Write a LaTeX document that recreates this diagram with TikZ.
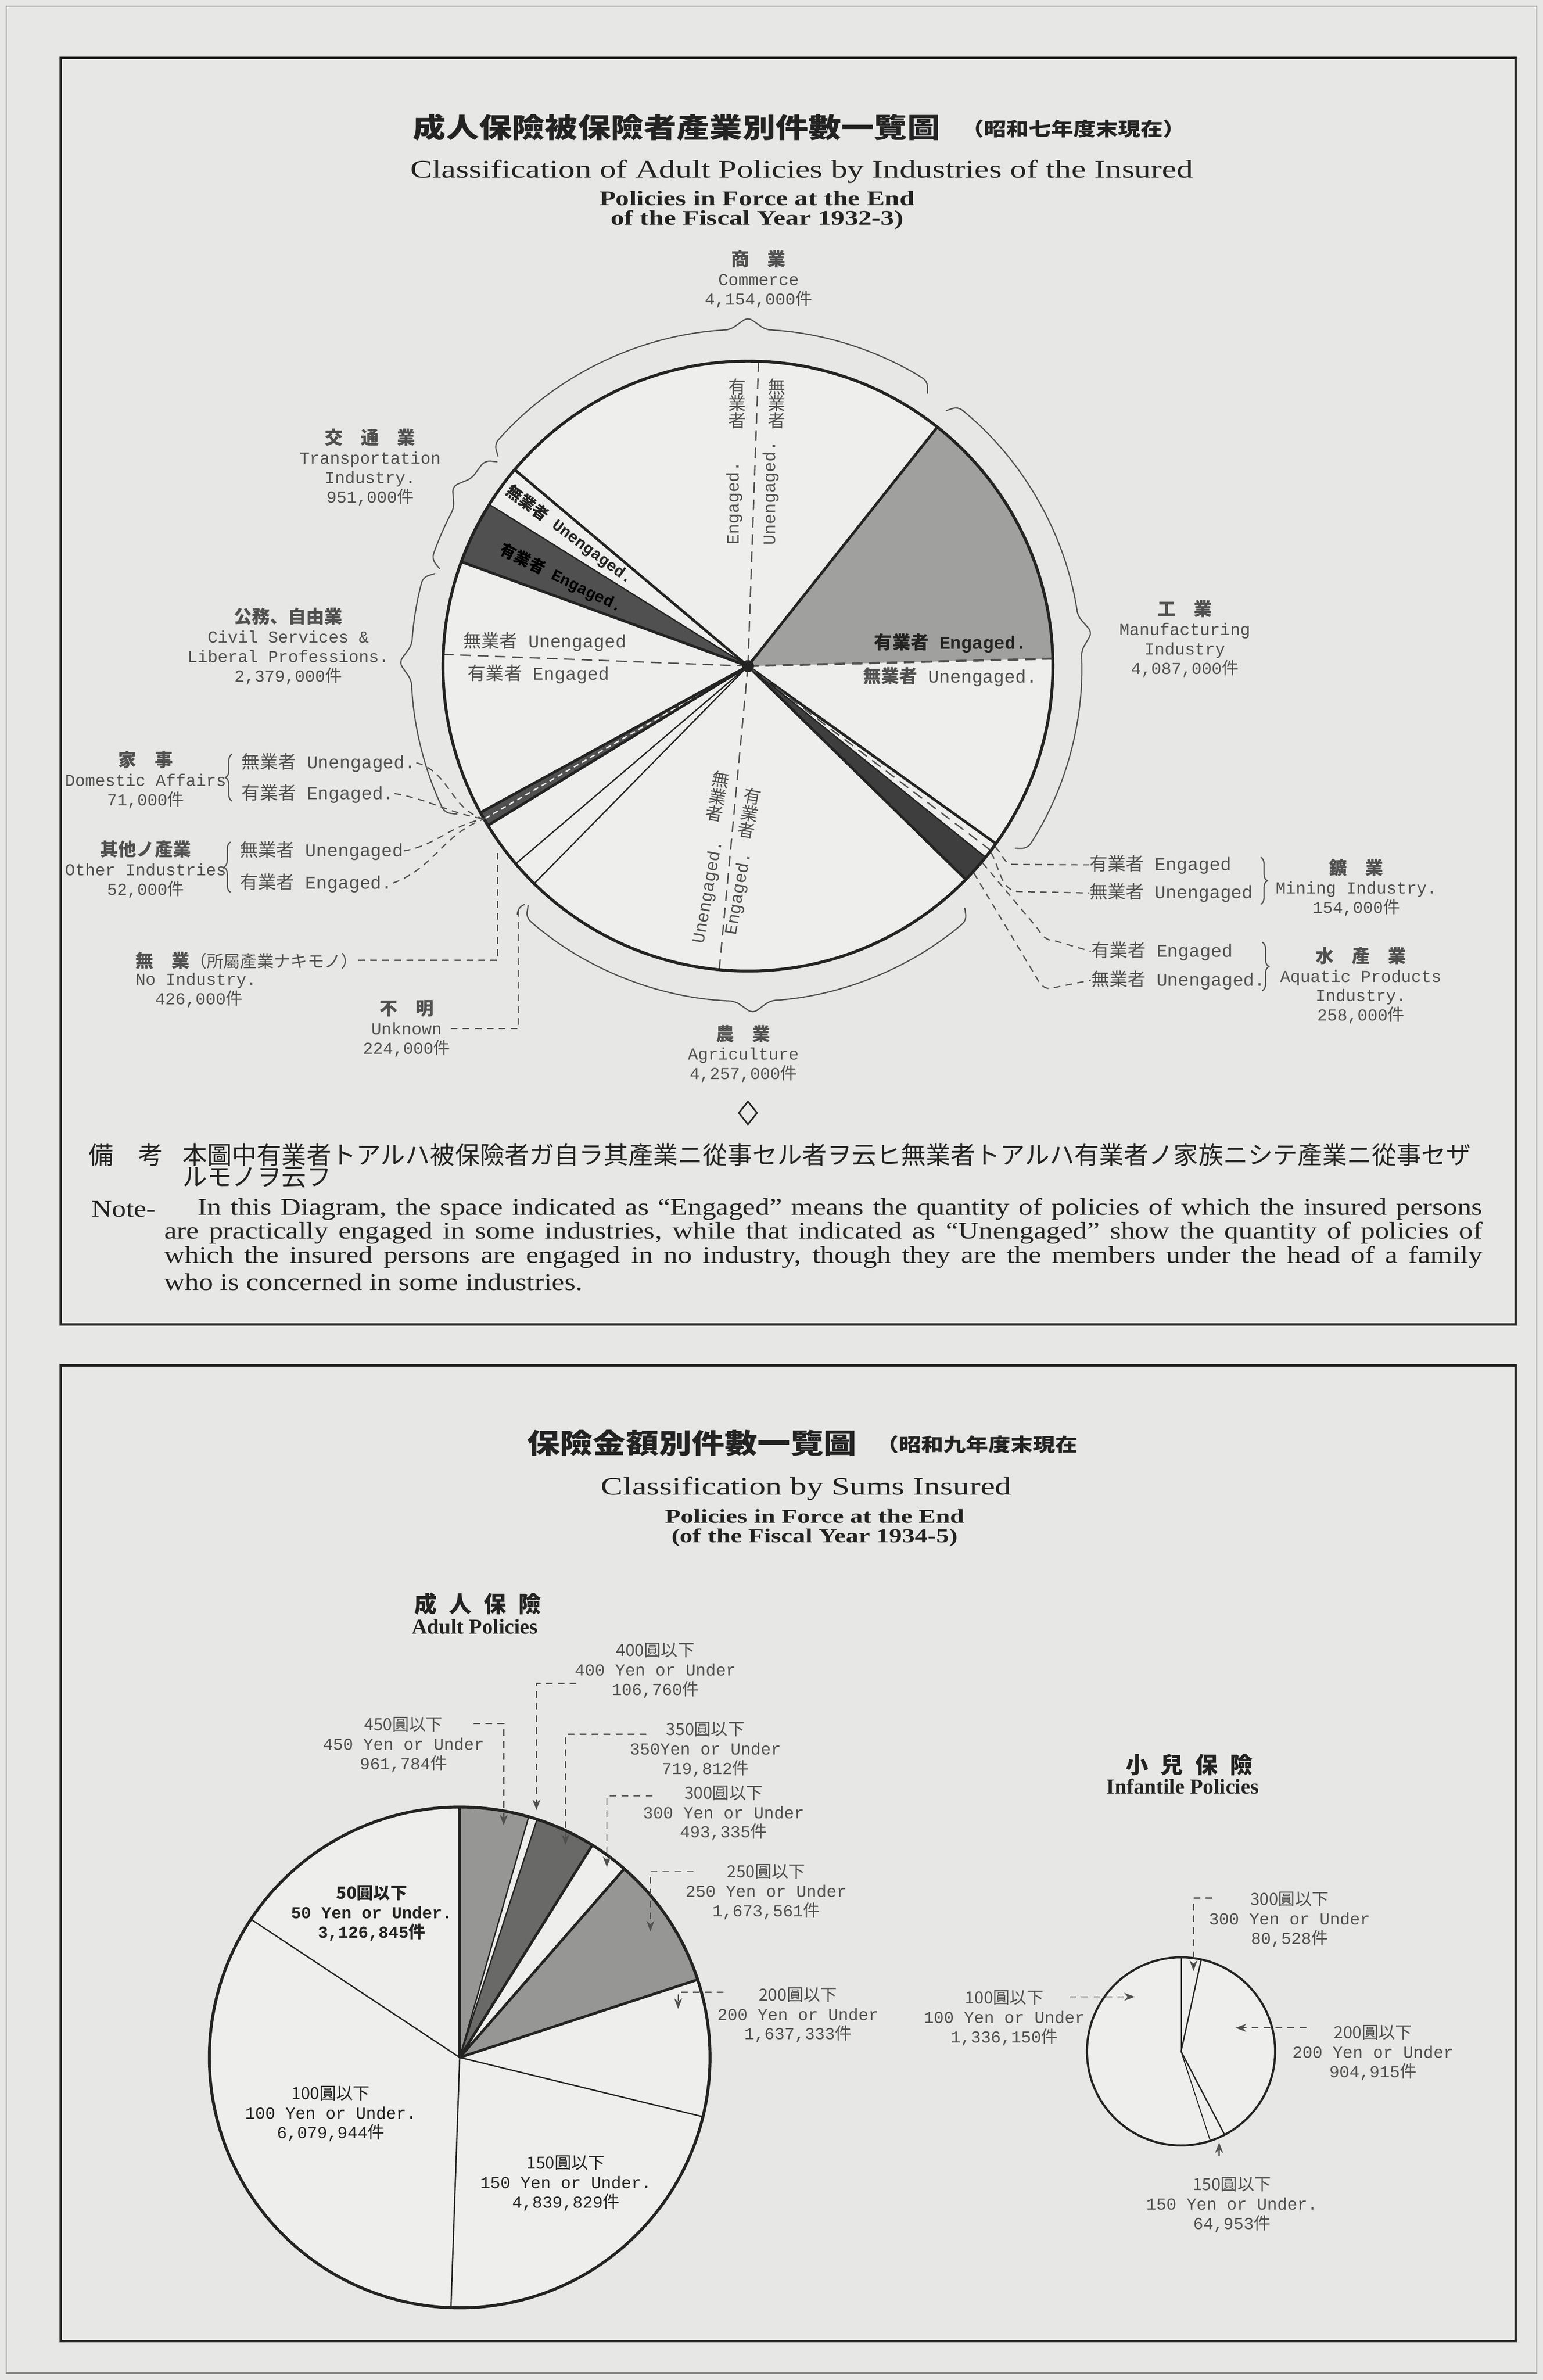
\documentclass[tikz,border=0pt]{standalone}
\usepackage{fontspec}
\setmainfont{Liberation Serif}
\setmonofont{Liberation Mono}
\newfontfamily\jp{Noto Sans CJK JP}
\newfontfamily\jpw[FakeStretch=1.2]{Noto Sans CJK JP}
\newfontfamily\wser[FakeStretch=1.18]{Liberation Serif}
\newfontfamily\wserw[FakeStretch=1.3]{Liberation Serif}
\usetikzlibrary{arrows.meta,decorations.pathreplacing}
\definecolor{bg}{RGB}{231,231,229}
\definecolor{pie}{RGB}{238,238,236}
\definecolor{ink}{RGB}{35,35,35}
\definecolor{ink2}{RGB}{80,80,80}
\definecolor{mfgc}{RGB}{160,160,158}
\definecolor{darkc}{RGB}{80,80,80}
\definecolor{darkerc}{RGB}{62,62,62}
\definecolor{grayc}{RGB}{150,150,148}
\definecolor{dgrayc}{RGB}{105,105,103}
\newcommand\J[1]{{\jp #1}}
\newcommand\JB[1]{{\jp\bfseries\fontsize{6.8}{7.3}\selectfont #1}}
\newcommand\pslice[4]{\fill[#4] (0,0) -- (#1:#3) arc[start angle=#1, end angle=#2, radius=#3] -- cycle;}
\newcommand\obr[4]{\draw[brc, rounded corners=2pt] ({#1}:{#4-7}) -- ({#1+1.2}:{#4}) arc[start angle={#1+1.2}, end angle={#2-3}, radius={#4}] -- ({#2}:{#4+8}) -- ({#2+3}:{#4}) arc[start angle={#2+3}, end angle={#3-1.2}, radius={#4}] -- ({#3}:{#4-7});}
\begin{document}
\begin{tikzpicture}[x=0.02cm, y=-0.02cm,
  every node/.style={inner sep=0pt, text=ink},
  lbl/.style={font=\ttfamily\fontsize{6.3}{7.3}\selectfont, align=center, text=ink2},
  lblb/.style={font=\ttfamily\bfseries\fontsize{6.3}{7.3}\selectfont, align=center, text=ink},
  inl/.style={font=\ttfamily\fontsize{6.8}{8}\selectfont, text=ink2},
  inlb/.style={font=\ttfamily\bfseries\fontsize{6.8}{8}\selectfont, text=ink},
  trl/.style={font=\ttfamily\bfseries\fontsize{6}{7}\selectfont, text=ink},
  vtx/.style={font=\jp\fontsize{6.6}{6.4}\selectfont, align=center, text=ink2},
  rtx/.style={font=\ttfamily\fontsize{6.5}{7}\selectfont, text=ink2},
  rim/.style={draw=ink, line width=1.1pt},
  sl/.style={draw=ink, line width=1pt},
  slt/.style={draw=ink, line width=0.5pt},
  dv/.style={draw=ink2, line width=0.5pt, dash pattern=on 4pt off 2.5pt},
  lead/.style={draw=ink2, line width=0.45pt, dash pattern=on 2.5pt off 2pt},
  brc/.style={draw=ink2, line width=0.45pt},
  boxf/.style={draw=ink, line width=0.9pt},
  arw/.style={-{Stealth[length=4pt,width=3pt]}},
  jtitle/.style={font=\jpw\bfseries\fontsize{10.3}{12}\selectfont},
  jsub/.style={font=\jpw\bfseries\fontsize{7}{8}\selectfont},
  etitle/.style={font=\wserw\fontsize{9.5}{11}\selectfont},
  esub/.style={font=\wserw\bfseries\fontsize{7.8}{7.4}\selectfont, align=center},
  notef/.style={font=\wser\fontsize{9}{10}\selectfont, anchor=west},
  notej/.style={font=\jp\fontsize{9.3}{10}\selectfont, anchor=west},
]
\fill[bg] (0,0) rectangle (1017,1568.6);
\useasboundingbox (0,0) rectangle (1017,1568.6);
\draw[ink2!70, line width=0.4pt] (4,4) rectangle (1013,1564);
\draw[boxf] (40,38) rectangle (999,873);
\draw[boxf] (40,900) rectangle (999,1543);

% ---------- top titles
\node[jtitle] (t1a) at (446,84) {成人保險被保險者產業別件數一覽圖};
\node[jsub] (t1b) at (707.5,85) {（昭和七年度末現在）};
\node[etitle] (t1c) at (528.5,113) {Classification of Adult Policies by Industries of the Insured};
\node[esub] (t1d) at (499,138.5) {Policies in Force at the End\\of the Fiscal Year 1932-3)};

% ---------- top pie
\begin{scope}[shift={(493,439)}, yscale=-1]
 \fill[pie] (0,0) circle[radius=201];
 \pslice{1.4}{51.6}{201}{mfgc}
 \pslice{148}{160}{201}{darkc}
 \pslice{208.7}{211.5}{201}{darkc}
 \pslice{315.6}{321.2}{201}{darkerc}
 \draw[draw=pie, line width=0.5pt, dash pattern=on 2pt off 1.5pt] (0,0) -- (210.1:200);
 \draw[sl] (0,0) -- (51.6:201);
 \draw[sl] (0,0) -- (139.9:201);
 \draw[slt] (0,0) -- (148:201);
 \draw[sl] (0,0) -- (160:201);
 \draw[sl] (0,0) -- (208.7:201);
 \draw[sl] (0,0) -- (211.5:201);
 \draw[slt] (0,0) -- (220.4:201);
 \draw[slt] (0,0) -- (225.5:201);
 \draw[sl] (0,0) -- (315.6:201);
 \draw[slt] (0,0) -- (321.2:201);
 \draw[sl] (0,0) -- (324.4:201);
 \draw[dv] (0,0) -- (88:201);
 \draw[dv] (0,0) -- (177.8:201);
 \draw[dv] (0,0) -- (264.6:201);
 \draw[dv, line width=0.8pt] (0,0) -- (1.4:201);
 \draw[dv] (0,0) -- (322.8:201);
 \draw[rim] (0,0) circle[radius=201];
 \fill[ink] (0,0) circle[radius=4];
 \obr{56.6}{90}{140}{222}
 \obr{-34.3}{5.6}{52.2}{220}
 \obr{140.8}{148.7}{162.5}{220}
 \obr{163.5}{179.4}{207}{222}
 \obr{227.4}{270.8}{311.9}{221}
 \coordinate (S) at (210.1:201);
 \coordinate (bm1) at (323.8:202);
 \coordinate (bm2) at (322.5:202);
 \coordinate (ba1) at (320:202);
 \coordinate (ba2) at (317.5:202);
 \coordinate (trUc) at (143.6:146);
 \coordinate (trEc) at (154.8:136);
\end{scope}

% industry labels
\node[lbl] (com) at (500,184) {\JB{商　業}\\Commerce\\4,154,000\J{件}};
\node[lbl] (trn) at (244,308) {\JB{交　通　業}\\Transportation\\Industry.\\951,000\J{件}};
\node[lbl] (civ) at (190,426) {\JB{公務、自由業}\\Civil Services \&\\Liberal Professions.\\2,379,000\J{件}};
\node[lbl] (dom) at (96,514) {\JB{家　事}\\Domestic Affairs\\71,000\J{件}};
\node[lbl] (oth) at (96,573) {\JB{其他ノ產業}\\Other Industries\\52,000\J{件}};
\node[lbl, anchor=west] (noiA) at (89,633) {\JB{無　業}\J{（所屬產業ナキモノ）}};
\node[lbl, anchor=north west, align=left] (noiB) at (89,641) {No Industry.\\\hspace*{2.6mm}426,000\J{件}};
\node[lbl] (unk) at (268,678) {\JB{不　明}\\Unknown\\224,000\J{件}};
\node[lbl] (agr) at (490,694.5) {\JB{農　業}\\Agriculture\\4,257,000\J{件}};
\node[lbl] (mfg) at (781,421) {\JB{工　業}\\Manufacturing\\Industry\\4,087,000\J{件}};
\node[lbl] (min) at (894,585) {\JB{鑛　業}\\Mining Industry.\\154,000\J{件}};
\node[lbl] (aqu) at (897,649.5) {\JB{水　產　業}\\Aquatic Products\\Industry.\\258,000\J{件}};

% engaged / unengaged sub labels outside
\node[inl, anchor=west] (mE) at (718,570) {\J{有業者} Engaged};
\node[inl, anchor=west] (mU) at (718,588.5) {\J{無業者} Unengaged};
\node[inl, anchor=west] (aE) at (719,627) {\J{有業者} Engaged};
\node[inl, anchor=west] (aU) at (719,646) {\J{無業者} Unengaged.};
\node[inl, anchor=west] (dU) at (159,502.7) {\J{無業者} Unengaged.};
\node[inl, anchor=west] (dE) at (159,523) {\J{有業者} Engaged.};
\node[inl, anchor=west] (oU) at (158,560.8) {\J{無業者} Unengaged};
\node[inl, anchor=west] (oE) at (158,582) {\J{有業者} Engaged.};
\draw[brc, decorate, decoration={brace, amplitude=2.5pt}] (831,565) -- (831,596);
\draw[brc, decorate, decoration={brace, amplitude=2.5pt}] (832,621) -- (832,653);
\draw[brc, decorate, decoration={brace, amplitude=2.5pt}] (153,528) -- (153,497);
\draw[brc, decorate, decoration={brace, amplitude=2.5pt}] (152,588) -- (152,555);

% inside pie labels
\node[inl, anchor=west] (civU) at (305,423) {\J{無業者} Unengaged};
\node[inl, anchor=west] (civE) at (308,444.5) {\J{有業者} Engaged};
\node[inlb, anchor=east] (mfE) at (677,424) {\J{\bfseries 有業者} Engaged.};
\node[inl, anchor=east] (mfU) at (684,446) {\J{\bfseries 無業者} Unengaged.};
\node[trl, rotate=-36.4] (trU) at (trUc) {\J{\bfseries 無業者} Unengaged.};
\node[trl, rotate=-26, text=black] (trE) at (trEc) {\J{\bfseries 有業者} Engaged.};
\node[vtx] (cEj) at (486,266) {有\\業\\者};
\node[vtx] (cUj) at (512,266) {無\\業\\者};
\node[rtx, rotate=90] (cEe) at (484,331.5) {Engaged.};
\node[rtx, rotate=90] (cUe) at (508,325) {Unengaged.};
\node[vtx, rotate=-10] (gUj) at (473,525) {無\\業\\者};
\node[vtx, rotate=-10] (gEj) at (494,536) {有\\業\\者};
\node[rtx, rotate=80] (gUe) at (467,588) {Unengaged.};
\node[rtx, rotate=80] (gEe) at (487,589) {Engaged.};

% leaders top pie
\coordinate (ni) at (328,561);
\coordinate (uk) at (342,600);
\draw[lead] (bm1) to[out=-40,in=180] (668,569.7) -- (mE.west);
\draw[lead] (bm2) to[out=-60,in=180] (672,587.6) -- (mU.west);
\draw[lead] (ba1) -- (684,612) to[out=-60,in=180] (695,620) -- (aE.west);
\draw[lead] (ba2) -- (683,644) to[out=-60,in=180] (692,651.5) -- (aU.west);
\draw[lead] (dU.east) to[out=-15,in=165] (S);
\draw[lead] (dE.east) to[out=-10,in=170] (S);
\draw[lead] (oU.east) to[out=10,in=-170] (S);
\draw[lead] (oE.east) to[out=20,in=-160] (S);
\draw[lead] (noiA.east) -| (ni);
\draw[lead] (unk.east) -| (uk);
\draw[brc] (346,596) to[out=200,in=90] (341,603);
\draw[ink, line width=0.6pt] (493,726) -- (499,733.5) -- (493,741) -- (487,733.5) -- cycle;

% note
\node[notej] (bk) at (58,761) {備　考};
\node[notej] (nj1) at (120,761) {本圖中有業者トアルハ被保險者ガ自ラ其產業ニ從事セル者ヲ云ヒ無業者トアルハ有業者ノ家族ニシテ產業ニ從事セザ};
\node[notej] (nj2) at (120,776) {ルモノヲ云フ};
\node[notef] (nt) at (60,797) {Note-};
\node[notef] (n1) at (130,797) {\makebox[16.94cm][s]{In this Diagram, the space indicated as “Engaged” means the quantity of policies of which the insured persons}};
\node[notef] (n2) at (108,812.5) {\makebox[17.38cm][s]{are practically engaged in some industries, while that indicated as “Unengaged” show the quantity of policies of}};
\node[notef] (n3) at (108,828.5) {\makebox[17.38cm][s]{which the insured persons are engaged in no industry, though they are the members under the head of a family}};
\node[notef] (n4) at (108,845) {who is concerned in some industries.};

% ---------- bottom titles
\node[jtitle] (t2a) at (456,951) {保險金額別件數一覽圖};
\node[jsub] (t2b) at (644,952) {（昭和九年度末現在};
\node[etitle] (t2c) at (531.5,981) {Classification by Sums Insured};
\node[esub, font=\wserw\bfseries\fontsize{7.4}{7.2}\selectfont] (t2d) at (537,1007) {Policies in Force at the End\\(of the Fiscal Year 1934-5)};

\node[font=\jp\bfseries\fontsize{8.5}{9}\selectfont] (ad0) at (315,1057) {成\hspace{1.6mm}人\hspace{1.6mm}保\hspace{1.6mm}險};
\node[font=\bfseries\fontsize{8}{9}\selectfont] (ad1) at (313,1072) {Adult Policies};
\node[font=\jp\bfseries\fontsize{8.5}{9}\selectfont] (in0) at (784,1163) {小\hspace{1.6mm}兒\hspace{1.6mm}保\hspace{1.6mm}險};
\node[font=\bfseries\fontsize{8}{9}\selectfont] (in1) at (779.5,1177.5) {Infantile Policies};

% adult pie
\begin{scope}[shift={(303,1356)}, yscale=-1]
 \fill[pie] (0,0) circle[radius=165];
 \pslice{74}{90}{165}{grayc}
 \pslice{58}{72}{165}{dgrayc}
 \pslice{18.1}{48.9}{165}{grayc}
 \draw[sl] (0,0) -- (90:165);
 \draw[slt] (0,0) -- (74:165);
 \draw[slt] (0,0) -- (72:165);
 \draw[sl] (0,0) -- (58:165);
 \draw[sl] (0,0) -- (48.9:165);
 \draw[sl] (0,0) -- (18.1:165);
 \draw[slt] (0,0) -- (-13.7:165);
 \draw[slt] (0,0) -- (268:165);
 \draw[slt] (0,0) -- (146.5:165);
 \draw[rim] (0,0) circle[radius=165];
\end{scope}

\node[lblb] (a50) at (245,1261) {\J{50圓以下}\\50 Yen or Under.\\3,126,845\J{件}};
\node[lbl, text=ink] (a100) at (218,1393) {\J{100圓以下}\\100 Yen or Under.\\6,079,944\J{件}};
\node[lbl, text=ink] (a150) at (373,1439) {\J{150圓以下}\\150 Yen or Under.\\4,839,829\J{件}};
\node[lbl] (a200) at (526,1328) {\J{200圓以下}\\200 Yen or Under\\1,637,333\J{件}};
\node[lbl] (a250) at (505,1247) {\J{250圓以下}\\250 Yen or Under\\1,673,561\J{件}};
\node[lbl] (a300) at (477,1195) {\J{300圓以下}\\300 Yen or Under\\493,335\J{件}};
\node[lbl] (a350) at (465,1153) {\J{350圓以下}\\350Yen or Under\\719,812\J{件}};
\node[lbl] (a400) at (432,1101) {\J{400圓以下}\\400 Yen or Under\\106,760\J{件}};
\node[lbl] (a450) at (266,1150) {\J{450圓以下}\\450 Yen or Under\\961,784\J{件}};

\coordinate (s450) at (312,1136); \coordinate (e450) at (332,1203);
\coordinate (s400) at (380,1109.5); \coordinate (e400) at (353.6,1193);
\coordinate (s350) at (426,1143); \coordinate (e350) at (372.7,1216);
\coordinate (s300) at (430,1183.6); \coordinate (e300) at (400,1230.6);
\coordinate (s250) at (457,1233.6); \coordinate (e250) at (428.7,1273);
\coordinate (s200) at (477,1313); \coordinate (e200) at (447,1324);
\draw[lead, arw] (s450) -| (e450);
\draw[lead, arw] (s400) -| (e400);
\draw[lead, arw] (s350) -| (e350);
\draw[lead, arw] (s300) -| (e300);
\draw[lead, arw] (s250) -| (e250);
\draw[lead, arw] (s200) -| (e200);

% infantile pie
\begin{scope}[shift={(778.5,1352)}, yscale=-1]
 \fill[pie] (0,0) circle[radius=62];
 \draw[slt, line width=0.35pt] (0,0) -- (90:62);
 \draw[slt] (0,0) -- (77.6:62);
 \draw[slt] (0,0) -- (-62.4:62);
 \draw[slt, line width=0.35pt] (0,0) -- (-71.9:62);
 \draw[draw=ink, line width=0.8pt] (0,0) circle[radius=62];
\end{scope}

\node[lbl] (i300) at (850,1265) {\J{300圓以下}\\300 Yen or Under\\80,528\J{件}};
\node[lbl] (i100) at (662,1330) {\J{100圓以下}\\100 Yen or Under\\1,336,150\J{件}};
\node[lbl] (i200) at (905,1353) {\J{200圓以下}\\200 Yen or Under\\904,915\J{件}};
\node[lbl] (i150) at (812,1453) {\J{150圓以下}\\150 Yen or Under.\\64,953\J{件}};
\coordinate (si300) at (799,1251); \coordinate (ei300) at (786.7,1299);
\coordinate (si100) at (705,1316); \coordinate (ei100) at (748,1316);
\coordinate (si200) at (861,1336.5); \coordinate (ei200) at (814.4,1336.5);
\coordinate (si150) at (803.6,1421); \coordinate (ei150) at (803.6,1412);
\draw[lead, arw] (si300) -| (ei300);
\draw[lead, arw] (si100) -- (ei100);
\draw[lead, arw] (si200) -- (ei200);
\draw[brc, arw] (si150) -- (ei150);
\end{tikzpicture}
\end{document}
